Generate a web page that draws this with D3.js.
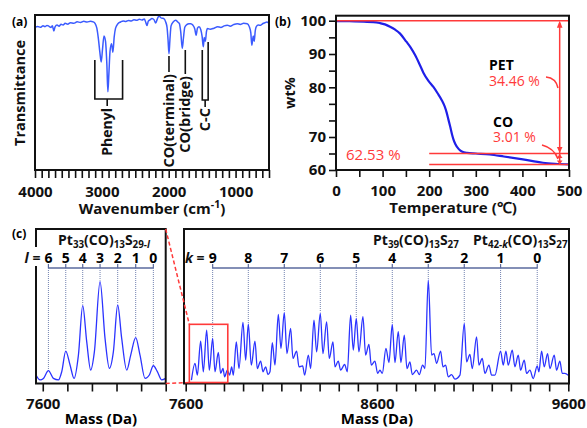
<!DOCTYPE html>
<html>
<head>
<meta charset="utf-8">
<script src="https://cdn.jsdelivr.net/npm/d3@7"></script>
<style>
  body { margin: 0; background: #fff; }
  text { font-family: 'Open Sans', sans-serif; }
</style>
</head>
<body>
<svg id="chart" width="587" height="428"></svg>
<script>
// ---------- data: (a) IR spectrum
const irWave = [3995, 3960, 3920, 3880, 3850, 3820, 3790, 3760, 3740, 3718, 3700, 3670, 3640, 3610, 3580, 3550, 3510, 3470, 3420, 3370,
  3320, 3270, 3220, 3170, 3130, 3100, 3075, 3050, 3030, 3010, 2990, 2968, 2945, 2925, 2910, 2895, 2878, 2855, 2835, 2815,
  2795, 2760, 2720, 2680, 2640, 2600, 2560, 2520, 2480, 2440, 2400, 2365, 2345, 2325, 2305, 2280, 2250, 2220, 2195, 2170,
  2145, 2110, 2075, 2045, 2025, 2010, 1996, 1982, 1965, 1930, 1896, 1865, 1840, 1820, 1797, 1780, 1760, 1740, 1700, 1670,
  1640, 1610, 1590, 1570, 1547, 1520, 1500, 1483, 1468, 1452, 1435, 1420, 1380, 1323, 1270, 1220, 1170, 1124, 1080, 1030,
  974, 930, 880, 825, 795, 772, 757, 745, 735, 722, 705, 690, 660, 624, 590, 560, 530, 500];
const irTrans = [92.2, 92.6, 92.1, 93.0, 92.5, 93.3, 92.7, 92.0, 93.0, 89.6, 92.4, 93.5, 92.8, 94.0, 93.6, 94.6, 94.1, 95.0, 94.7, 95.6,
  95.2, 95.9, 95.5, 96.0, 95.6, 94.5, 91.5, 84.0, 76.0, 69.7, 78.0, 86.5, 83.0, 68.0, 50.5, 62.0, 76.5, 81.5, 76.0, 86.0,
  91.5, 94.4, 95.5, 96.2, 95.8, 96.5, 96.2, 97.0, 96.6, 97.2, 96.8, 97.4, 95.5, 93.2, 96.0, 96.8, 97.8, 97.0, 94.8, 97.5,
  99.3, 98.0, 97.8, 95.5, 92.0, 84.0, 75.0, 84.0, 93.0, 95.6, 96.6, 95.5, 94.5, 89.0, 78.5, 85.0, 92.0, 93.4, 94.3, 94.4,
  93.5, 91.0, 87.0, 91.5, 92.4, 90.5, 86.0, 79.5, 85.5, 83.0, 89.5, 91.3, 90.8, 91.5, 92.4, 92.0, 93.0, 93.4, 92.8, 93.8,
  94.4, 93.9, 94.6, 94.4, 92.5, 88.5, 80.5, 84.0, 86.5, 83.0, 90.0, 92.5, 93.5, 93.4, 94.5, 95.0, 95.5, 94.4];
const irTicksMajor = [4000, 3000, 2000, 1000];

// ---------- data: (b) TGA
const tgaTemp = [0, 20, 40, 60, 80, 94, 105, 116, 127, 137, 151, 160, 170, 180, 187.5, 198, 209, 218, 227, 233,
  237.5, 241, 245, 249, 252, 256, 263, 270, 281, 300, 330, 360, 401, 444, 470, 500];
const tgaWt = [99.9, 99.85, 99.8, 99.7, 99.6, 99.3, 98.9, 98.2, 97.3, 96.2, 93.7, 92.0, 89.6, 86.7, 84.4, 82.0, 80.1, 78.8, 77.4, 76.2,
  74.9, 73.6, 72.1, 70.5, 69.3, 67.9, 66.4, 65.6, 65.2, 65.0, 64.7, 64.1, 63.2, 62.2, 61.9, 61.7];
const wtLevels = [100, 65.0, 61.7];        // start, after PET loss, after CO loss
const wtLabels = ['34.46 %', '3.01 %', '62.53 %'];
const tgaYTickLabels = [60, 70, 80, 90, 100];

// ---------- data: (c) mass spectra
const zoomMass = [7589, 7595.6, 7601.1, 7609.2, 7617.3, 7625.5, 7630.9, 7637.4, 7644.4, 7650.9, 7658, 7665, 7671.5, 7678,
  7684, 7693.2, 7701.3, 7708.4, 7714.9, 7721.9, 7728.4, 7736.6, 7743.1, 7751.2, 7758.2, 7766.4, 7773.4, 7779.9, 7786.4, 7793.5, 7800];
const zoomInt = [5.5, 2.3, 3.3, 8.3, 3.3, 2.3, 7.7, 21.0, 12.0, 3.3, 18.4, 50.4, 27.1, 8.7,
  20.6, 65.9, 29.2, 9.8, 20.6, 50.8, 29.2, 8.7, 18.4, 29.7, 18.4, 3.3, 5.5, 11.5, 7.7, 2.3, 3.3];
const lLabels = [6, 5, 4, 3, 2, 1, 0];
const lMass = [7609.2, 7637.4, 7665, 7693.2, 7721.9, 7751.2, 7779.9];

const msMass = [7630, 7648.6, 7660.8, 7678.2, 7692.1, 7709.6, 7723.5, 7740.9, 7753.1, 7770.5, 7782.7, 7794.9, 7803.6, 7817.6,
  7829.8, 7840.2, 7848.9, 7864.6, 7878.5, 7899.4, 7913.4, 7927.3, 7943, 7962.1, 7974.3, 7991.8, 8004, 8017.9, 8030.1, 8040.5,
  8052.7, 8066.7, 8084.1, 8098, 8115.4, 8129.4, 8148.5, 8160.7, 8179.9, 8192.1, 8211.3, 8221.7, 8240.9, 8253.1, 8270.5,
  8284.4, 8303.6, 8317.5, 8336.7, 8350.6, 8369.8, 8380.2, 8397.6, 8409.8, 8430.7, 8444.7, 8462.1, 8476, 8491.7, 8505.6,
  8526.5, 8540.5, 8557.9, 8570.1, 8589.3, 8603.2, 8615.4, 8627.6, 8646.8, 8662.5, 8679.9, 8693.8, 8711.2, 8725.2, 8742.6,
  8756.5, 8772.2, 8784.4, 8807.1, 8821, 8838.4, 8850.6, 8868, 8885.4, 8897.6, 8911.6, 8932.5, 8944.7, 8958.6, 8972.5,
  8990, 9007.4, 9033.5, 9056.2, 9068.4, 9085.8, 9098, 9120.6, 9132.8, 9150.2, 9164.2, 9185.1, 9199, 9216.4, 9246,
  9260, 9273.9, 9286.1, 9307, 9320.9, 9338.4, 9350.6, 9369.7, 9381.9, 9399.3, 9416.7, 9437.6, 9446.4, 9460.3, 9474.2,
  9491.7, 9503.9, 9526.5, 9538.7, 9556.1, 9568.3, 9582.2, 9599.7];
const msInt = [2.2, 13.0, 5.4, 27.4, 7.6, 34.6, 8.6, 29.2, 7.6, 20.1, 6.5, 9.7, 4.3, 8.6,
  5.4, 10.8, 5.4, 27.0, 9.7, 39.5, 15.1, 38.4, 11.9, 27.4, 9.7, 14.5, 7.6, 10.8, 5.8, 7.6,
  26.4, 11.9, 44.7, 22.7, 45.8, 19.4, 35.6, 16.2, 21.0, 10.8, 11.4, 5.4, 18.4, 9.7, 41.0,
  20.5, 45.4, 19.4, 39.9, 16.2, 27.0, 10.8, 14.5, 8.6, 12.3, 7.6, 44.3, 21.6, 42.1, 20.5,
  43.2, 18.4, 25.3, 11.9, 14.5, 6.5, 8.6, 6.5, 22.7, 13.6, 38.2, 13.6, 33.5, 13.6, 31.3,
  9.7, 14.0, 5.8, 8.6, 5.8, 11.9, 9.7, 67.0, 18.4, 19.4, 13.0, 21.0, 10.8, 11.9, 4.3,
  5.8, 2.8, 5.4, 38.9, 14.0, 18.8, 9.7, 30.2, 11.9, 16.2, 6.5, 11.9, 5.4, 5.4, 21.0,
  11.9, 21.0, 11.9, 21.6, 10.8, 18.4, 8.6, 15.1, 6.5, 8.6, 3.2, 11.4, 7.6, 21.0, 10.8,
  19.4, 9.7, 18.4, 8.6, 14.5, 6.5, 6.5, 5.4];
const kLabels = [9, 8, 7, 6, 5, 4, 3, 2, 1, 0];
const kMass = [7740.9, 7927.3, 8115.4, 8303.6, 8491.7, 8679.9, 8868, 9056.2, 9246, 9437.6];
const zoomBoxMass = [7619, 7820];
const zoomBoxTop = 38.3;
const msTickLabels = [7600, 8600, 9600];

// ---------- setup
const svg = d3.select('#chart');
const red = '#ff3a3a';
const ink = '#111';

function richText(x, y, parts, size, anchor) {
  const t = svg.append('text').attr('x', x).attr('y', y)
    .attr('font-size', size).attr('font-weight', 'bold').attr('fill', ink)
    .attr('text-anchor', anchor || 'start');
  let shift = 0;
  parts.forEach(([s, type]) => {
    let target = 0, fs = size;
    if (type.startsWith('sub')) { target = size * 0.22; fs = size * 0.7; }
    if (type === 'sup') { target = -size * 0.38; fs = size * 0.7; }
    t.append('tspan').attr('dy', target - shift).attr('font-size', fs)
      .attr('font-style', type.endsWith('i') ? 'italic' : 'normal').text(s);
    shift = target;
  });
  return t;
}

function styleAxis(g, size) {
  g.select('.domain').remove();
  g.selectAll('.tick line').attr('stroke', ink).attr('stroke-width', 1.6);
  g.selectAll('.tick text').filter(function () { return this.textContent === ''; }).remove();
  g.selectAll('.tick text').attr('font-size', size).attr('font-weight', 'bold').attr('fill', ink)
    .attr('font-family', "'Open Sans', sans-serif");
}

function frame(x0, y0, x1, y1) {
  svg.append('rect').attr('x', x0).attr('y', y0).attr('width', x1 - x0).attr('height', y1 - y0)
    .attr('fill', 'none').attr('stroke', ink).attr('stroke-width', 2);
}

function vText(x, y, s, size, anchor) {
  svg.append('text').attr('transform', `translate(${x},${y}) rotate(-90)`)
    .attr('text-anchor', anchor).attr('dy', '0.35em')
    .attr('font-size', size).attr('font-weight', 'bold').attr('fill', ink).text(s);
}

// ---------- (a) IR
const xa = d3.scaleLinear().domain([4000, 500]).range([35, 269]);
const ya = d3.scaleLinear().domain([0, 100]).range([170, 15]);

svg.append('path')
  .datum(irWave.map((w, i) => [w, irTrans[i]]))
  .attr('fill', 'none').attr('stroke', '#3b5bff').attr('stroke-width', 1.5)
  .attr('d', d3.line().x(d => xa(d[0])).y(d => ya(d[1])).curve(d3.curveMonotoneX));

svg.append('g').attr('transform', 'translate(0,170)')
  .call(d3.axisBottom(xa).tickValues(d3.range(4000, 499, -100)).tickSize(8).tickPadding(8)
    .tickFormat(d => irTicksMajor.includes(d) ? d : ''))
  .call(g => styleAxis(g, 15));
frame(35, 15, 269, 170);

// band assignments
const br = svg.append('g').attr('fill', 'none').attr('stroke', ink).attr('stroke-width', 1.6);
br.append('path').attr('d', `M${xa(3105)},60 V99 H${xa(2690)} V60 M${xa(2920)},99 V106`);
br.append('path').attr('d', `M${xa(1996)},56 V72`);
br.append('path').attr('d', `M${xa(1752)},50 V74`);
br.append('path').attr('d', `M${xa(1498)},50 V100 H${xa(1410)} V42 M${xa(1455)},100 V107`);
vText(xa(2920), 108, 'Phenyl', 14, 'end');
vText(xa(2004), 74, 'CO(terminal)', 14.5, 'end');
vText(xa(1752), 76, 'CO(bridge)', 14.5, 'end');
vText(xa(1455), 108, 'C-C', 14.5, 'end');

vText(20, 93, 'Transmittance', 14.5, 'middle');
richText(152, 214, [['Wavenumber (cm', 'n'], ['-1', 'sup'], [')', 'n']], 15, 'middle');
svg.append('text').attr('x', 12).attr('y', 26).attr('font-size', 12).attr('font-weight', 'bold').text('(a)');

// ---------- (b) TGA
const xb = d3.scaleLinear().domain([0, 500]).range([336, 569]);
const yb = d3.scaleLinear().domain([60, 70, 80, 100]).range([170, 137, 87.3, 20.7]);

svg.append('path')
  .datum(tgaTemp.map((t, i) => [t, tgaWt[i]]))
  .attr('fill', 'none').attr('stroke', '#1f1fe8').attr('stroke-width', 2.2)
  .attr('d', d3.line().x(d => xb(d[0])).y(d => yb(d[1])).curve(d3.curveMonotoneX));

const rl = svg.append('g').attr('stroke', red).attr('stroke-width', 1.5).attr('fill', 'none');
rl.append('line').attr('x1', xb(0)).attr('x2', xb(500)).attr('y1', yb(wtLevels[0])).attr('y2', yb(wtLevels[0]));
wtLevels.slice(1).forEach(v => rl.append('line').attr('x1', xb(200)).attr('x2', xb(500)).attr('y1', yb(v)).attr('y2', yb(v)));
const ax = xb(480);
rl.append('line').attr('x1', ax).attr('x2', ax).attr('y1', yb(wtLevels[0]) + 2).attr('y2', yb(wtLevels[2]) - 1);
function head(y, dir, h) {
  svg.append('path').attr('fill', red)
    .attr('d', `M${ax},${y} L${ax - 2.8},${y + dir * h} L${ax + 2.8},${y + dir * h} Z`);
}
head(yb(wtLevels[0]), 1, 7);
head(yb(wtLevels[1]) - 0.5, -1, 6);
head(yb(wtLevels[1]) + 0.5, 1, 4);
head(yb(wtLevels[2]), -1, 4);
rl.append('path').attr('d', `M546,77 Q556,78 558,88`);
rl.append('path').attr('d', `M542,145 Q554,148 558,159`);

svg.append('text').attr('x', 489).attr('y', 70).attr('font-size', 14).attr('font-weight', 'bold').text('PET');
svg.append('text').attr('x', 489).attr('y', 86).attr('font-size', 14).attr('fill', red).text(wtLabels[0]);
svg.append('text').attr('x', 493).attr('y', 127).attr('font-size', 14).attr('font-weight', 'bold').text('CO');
svg.append('text').attr('x', 493).attr('y', 142).attr('font-size', 14).attr('fill', red).text(wtLabels[1]);
svg.append('text').attr('x', 346).attr('y', 160).attr('font-size', 15).attr('fill', red).text(wtLabels[2]);

svg.append('g').attr('transform', 'translate(0,170)')
  .call(d3.axisBottom(xb).tickValues(d3.range(0, 501, 50)).tickSize(7).tickPadding(8)
    .tickFormat(d => d % 100 === 0 ? d : ''))
  .call(g => styleAxis(g, 15));
svg.append('g').attr('transform', 'translate(336,0)')
  .call(d3.axisLeft(yb).tickValues([60, 65, 70, 73.33, 76.67, 80, 85, 90, 95, 100]).tickSize(7).tickPadding(3)
    .tickFormat(d => tgaYTickLabels.includes(d) ? d : ''))
  .call(g => styleAxis(g, 15));
frame(336, 15.7, 569, 170);

vText(290, 93, 'wt%', 14.5, 'middle');
richText(453, 213, [['Temperature (\u2103)', 'n']], 15, 'middle');
svg.append('text').attr('x', 275).attr('y', 26).attr('font-size', 12).attr('font-weight', 'bold').text('(b)');

// ---------- (c) mass spectra
const xl = d3.scaleLinear().domain([7589, 7800]).range([36, 165.7]);
const xr = d3.scaleLinear().domain([7600, 9600]).range([185.7, 568.3]);
const yc = d3.scaleLinear().domain([0, 100]).range([383.5, 229]);
const msLine = '#2b33ff';

function peakY(masses, ints, m) {
  let best = 0;
  masses.forEach((v, i) => { if (Math.abs(v - m) < Math.abs(masses[best] - m)) best = i; });
  return yc(ints[best]) - 1;
}

function series(x, labels, masses, dataM, dataI) {
  const g = svg.append('g');
  g.append('line').attr('x1', x(masses[0])).attr('x2', x(masses[masses.length - 1]))
    .attr('y1', 268).attr('y2', 268).attr('stroke', '#5a6a9e').attr('stroke-width', 1.6);
  masses.forEach((m, i) => {
    g.append('line').attr('x1', x(m)).attr('x2', x(m)).attr('y1', 264).attr('y2', 268)
      .attr('stroke', '#5a6a9e').attr('stroke-width', 1.2);
    g.append('line').attr('x1', x(m)).attr('x2', x(m)).attr('y1', 268).attr('y2', peakY(dataM, dataI, m))
      .attr('stroke', '#7282b0').attr('stroke-width', 1).attr('stroke-dasharray', '1,1');
    g.append('text').attr('x', x(m)).attr('y', 263).attr('text-anchor', 'middle')
      .attr('font-size', 14).attr('font-weight', 'bold').text(labels[i]);
  });
}

// left zoom panel
series(xl, lLabels, lMass, zoomMass, zoomInt);
svg.append('path')
  .datum(zoomMass.map((m, i) => [m, zoomInt[i]]))
  .attr('fill', 'none').attr('stroke', msLine).attr('stroke-width', 1.3)
  .attr('d', d3.line().x(d => xl(d[0])).y(d => yc(d[1])).curve(d3.curveMonotoneX));
svg.append('g').attr('transform', 'translate(0,383.5)')
  .call(d3.axisBottom(xl).tickValues(d3.range(7600, 7801, 40)).tickSize(8).tickPadding(7)
    .tickFormat(d => d === 7600 ? d : ''))
  .call(g => styleAxis(g, 15));
frame(36, 229, 165.7, 383.5);
svg.append('rect').attr('x', 26).attr('y', 247).attr('width', 18).attr('height', 19).attr('fill', '#fff');
richText(xl(lMass[0]) - 8, 263, [['l', 'i'], [' =', 'n']], 14, 'end');
richText(58, 245, [['Pt', 'n'], ['33', 'sub'], ['(CO)', 'n'], ['13', 'sub'], ['S', 'n'], ['29-', 'sub'], ['l', 'subi']], 14);

// right full panel
series(xr, kLabels, kMass, msMass, msInt);
svg.append('path')
  .datum(msMass.map((m, i) => [m, msInt[i]]))
  .attr('fill', 'none').attr('stroke', msLine).attr('stroke-width', 1.3)
  .attr('d', d3.line().x(d => xr(d[0])).y(d => yc(d[1])).curve(d3.curveMonotoneX));
svg.append('g').attr('transform', 'translate(0,383.5)')
  .call(d3.axisBottom(xr).tickValues(d3.range(7600, 9601, 100)).tickSize(8).tickPadding(7)
    .tickFormat(d => msTickLabels.includes(d) ? d : ''))
  .call(g => styleAxis(g, 15));
frame(184, 229, 569, 383.5);
richText(xr(kMass[0]) - 8, 263, [['k', 'i'], [' =', 'n']], 14, 'end');
richText(373, 245, [['Pt', 'n'], ['39', 'sub'], ['(CO)', 'n'], ['13', 'sub'], ['S', 'n'], ['27', 'sub']], 14);
richText(473, 245, [['Pt', 'n'], ['42-', 'sub'], ['k', 'subi'], ['(CO)', 'n'], ['13', 'sub'], ['S', 'n'], ['27', 'sub']], 14);

// zoom box and connectors
const bx0 = xr(zoomBoxMass[0]), bx1 = xr(zoomBoxMass[1]), by0 = yc(zoomBoxTop), by1 = yc(0) - 1;
svg.append('rect').attr('x', bx0).attr('y', by0).attr('width', bx1 - bx0).attr('height', by1 - by0)
  .attr('fill', 'none').attr('stroke', red).attr('stroke-width', 1.6);
const dash = svg.append('g').attr('stroke', red).attr('stroke-width', 1.5).attr('stroke-dasharray', '4,2.5');
dash.append('line').attr('x1', 165.7).attr('y1', 229).attr('x2', bx0).attr('y2', by0);
dash.append('line').attr('x1', 165.7).attr('y1', 383.5).attr('x2', bx0).attr('y2', by1);

svg.append('text').attr('x', 101).attr('y', 424).attr('text-anchor', 'middle').attr('font-size', 15).attr('font-weight', 'bold').text('Mass (Da)');
svg.append('text').attr('x', 377).attr('y', 424).attr('text-anchor', 'middle').attr('font-size', 15).attr('font-weight', 'bold').text('Mass (Da)');
svg.append('text').attr('x', 12).attr('y', 238).attr('font-size', 12).attr('font-weight', 'bold').text('(c)');
</script>
</body>
</html>
